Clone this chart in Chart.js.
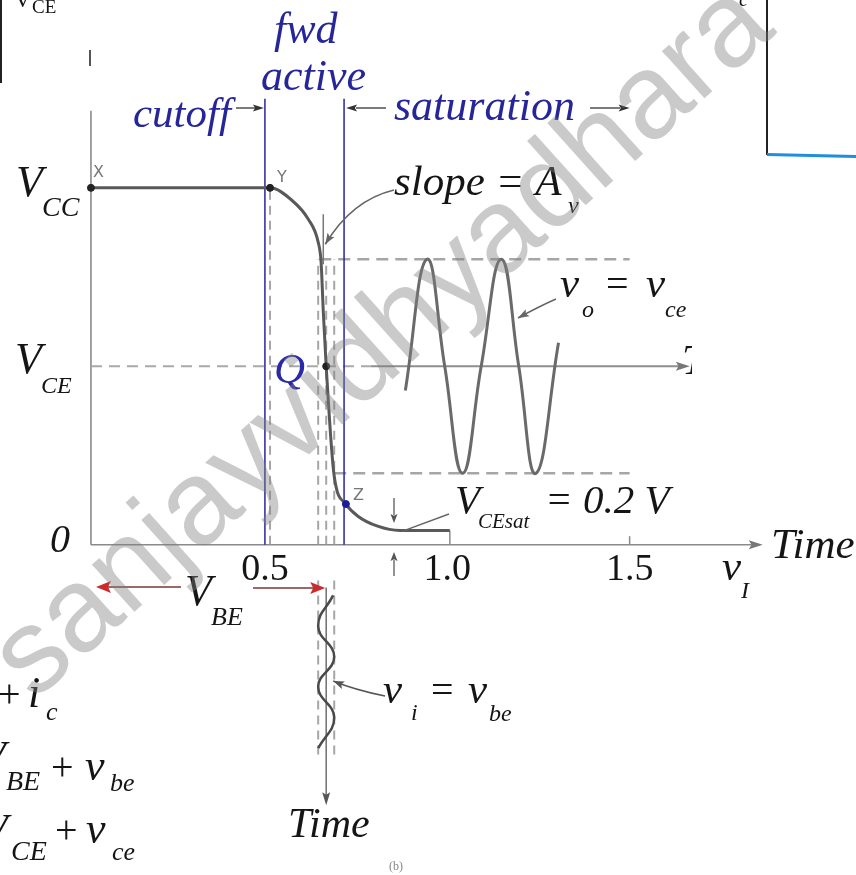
<!DOCTYPE html>
<html>
<head>
<meta charset="utf-8">
<script src="https://cdn.jsdelivr.net/npm/chart.js@4.4.1/dist/chart.umd.min.js"></script>
<style>
  html, body { margin: 0; padding: 0; background: #fff; }
  canvas { display: block; }
</style>
</head>
<body>
<canvas id="myChart" width="856" height="875"></canvas>
<script>
// BJT voltage transfer characteristic vO(vI) with small-signal in/out waves

// transfer curve: input vI (V), output vO (V)
const vIn  = [0.023, 0.514, 0.573, 0.619, 0.646, 0.654, 0.660, 0.668, 0.690, 0.722, 0.755, 0.809, 0.871, 1.007];
const vOut = [5.0,   5.0,   4.83,  4.56,  4.24,  3.96,  3.27,  2.5,   0.96,  0.57,  0.40,  0.26,  0.2,   0.2];

// output wave vo = vce, time running along the vI axis
const outT = [0.885, 0.944, 0.993, 1.042, 1.093, 1.148, 1.196, 1.243, 1.305];
const outV = [2.16,  4.0,   2.5,   1.0,   2.5,   4.0,   2.5,   1.0,   2.83];

// input wave vi = vbe, time running downwards below the axis
const inV = [0.687, 0.646, 0.690, 0.646, 0.690, 0.646];
const inT = [-0.71, -1.14, -1.57, -1.99, -2.42, -2.85];

// operating levels
const vCC = 5.0, vCE = 2.5, vCEsat = 0.2;
const swingHi = 4.0, swingLo = 1.0;
const vIq = 0.668, vIlo = 0.646, vIhi = 0.690;
const regionEdges = [0.5, 0.717];        // cutoff | fwd active | saturation
const xTicks = [0.5, 1.0, 1.5];
const xTickText = ['0.5', '1.0', '1.5'];

// visible window of the drawing
const xMin = -0.2127, xMax = 2.107;
const yMin = -4.557, yMax = 7.562;

function pts(xs, ys) { return xs.map((x, i) => ({ x: x, y: ys[i] })); }
function seg(x1, y1, x2, y2) { return [{ x: x1, y: y1 }, { x: x2, y: y2 }]; }
function ref(data, color, width, dash) {
  return { data: data, borderColor: color, borderWidth: width, borderDash: dash || [], pointRadius: 0, tension: 0 };
}

const dashGray = 'rgba(150,150,150,0.85)';
const navy = '#26269a';
const curve = pts(vIn, vOut);

const datasets = [
  // marked points X, Y, Q
  { data: [curve[0], curve[1], curve[7]], showLine: false,
    pointRadius: 3.5, pointBackgroundColor: '#222', pointBorderColor: '#222' },
  // point Z
  { data: [curve[9]], showLine: false, pointRadius: 3.5, pointBackgroundColor: '#1d1d9a', pointBorderColor: '#1d1d9a' },
  { data: curve, borderColor: '#595959', borderWidth: 3, cubicInterpolationMode: 'monotone', pointRadius: 0 },
  { data: pts(outT, outV), borderColor: '#6a6a6a', borderWidth: 3, tension: 0.45, pointRadius: 0 },
  { data: pts(inV, inT), borderColor: '#4a4a4a', borderWidth: 2.5, tension: 0.45, pointRadius: 0 },
  // region boundaries
  ref(seg(regionEdges[0], 0, regionEdges[0], 6.25), navy, 1.5),
  ref(seg(regionEdges[1], 0, regionEdges[1], 6.25), navy, 1.5),
  // projections
  ref(seg(0.514, 0, 0.514, vCC), dashGray, 2, [9, 6]),
  ref(seg(vIlo, 0, vIlo, swingHi), dashGray, 2, [9, 6]),
  ref(seg(vIq, 0, vIq, swingHi), dashGray, 2, [9, 6]),
  ref(seg(vIhi, 0, vIhi, swingHi), dashGray, 2, [9, 6]),
  ref(seg(0.660, 4.63, 0.660, 3.93), '#777', 1.5),
  ref(seg(0.649, swingHi, 1.5, swingHi), dashGray, 2.5, [12, 7]),
  ref(seg(vIhi, swingLo, 1.5, swingLo), dashGray, 2.5, [12, 7]),
  ref(seg(0.023, vCE, 0.79, vCE), 'rgba(160,160,160,0.9)', 2, [11, 7]),
  ref(seg(0.79, vCE, 1.645, vCE), '#8e8e8e', 2),
  ref(seg(1.007, vCEsat, 1.007, 0), '#8a8a8a', 1.5),
  ref(seg(1.5, 0, 1.5, 0.12), '#8a8a8a', 1.5),
  // input swing limits and time axis below
  ref(seg(vIlo, -0.50, vIlo, -2.96), dashGray, 2, [9, 6]),
  ref(seg(vIhi, -0.50, vIhi, -2.96), dashGray, 2, [9, 6]),
  ref(seg(vIq, -0.60, vIq, -3.55), '#6f6f6f', 1.5)
];

function line(c, x1, y1, x2, y2) { c.beginPath(); c.moveTo(x1, y1); c.lineTo(x2, y2); c.stroke(); }
function head(c, x, y, ang, color, len, half) {
  c.save();
  c.translate(x, y); c.rotate(ang);
  c.fillStyle = color;
  c.beginPath(); c.moveTo(0, 0); c.lineTo(-len, -half); c.lineTo(-len * 0.8, 0); c.lineTo(-len, half); c.closePath(); c.fill();
  c.restore();
}
// curved leader: start, control, tip
function leader(c, x1, y1, cx, cy, x2, y2, color) {
  c.save();
  c.strokeStyle = color; c.lineWidth = 1.6;
  c.beginPath(); c.moveTo(x1, y1); c.quadraticCurveTo(cx, cy, x2, y2); c.stroke();
  head(c, x2, y2, Math.atan2(y2 - cy, x2 - cx), color, 11, 4);
  c.restore();
}
function txt(c, s, x, y, size, o) {
  o = o || {};
  c.save();
  c.font = (o.up ? '' : 'italic ') + size + 'px "Liberation Serif", "DejaVu Serif", serif';
  c.fillStyle = o.color || '#151515';
  c.textAlign = o.align || 'left';
  c.textBaseline = 'alphabetic';
  c.fillText(s, x, y);
  c.restore();
}

const diagram = {
  id: 'diagram',
  beforeDatasetsDraw(chart) {
    const c = chart.ctx, X = chart.scales.x, Y = chart.scales.y;
    const px = v => X.getPixelForValue(v), py = v => Y.getPixelForValue(v);
    c.save();
    c.strokeStyle = '#8a8a8a'; c.lineWidth = 1.6;
    // vI axis with arrow, vO axis
    line(c, px(0.023), py(0), px(1.84), py(0));
    head(c, px(1.865), py(0), 0, '#777', 14, 4.5);
    line(c, px(0.023), py(0), px(0.023), py(6.08));
    // frames of neighbouring figures
    c.strokeStyle = '#222'; c.lineWidth = 2;
    line(c, 1, 0, 1, 83);
    line(c, 767, 0, 767, 155);
    c.strokeStyle = '#555'; c.lineWidth = 2;
    line(c, 90, 50, 90, 66);
    c.strokeStyle = '#1d8ee0'; c.lineWidth = 3;
    line(c, 767, 154.5, 856, 156.5);
    c.restore();
  },
  afterDatasetsDraw(chart) {
    const c = chart.ctx, X = chart.scales.x, Y = chart.scales.y;
    const px = v => X.getPixelForValue(v), py = v => Y.getPixelForValue(v);
    c.save();

    // arrow heads on the time axes
    head(c, px(1.665), py(vCE), 0, '#777', 14, 4.5);
    head(c, px(vIq), py(-3.65), Math.PI / 2, '#555', 13, 4);

    // region labels
    txt(c, 'fwd', 274, 43, 44, { color: navy });
    txt(c, 'active', 261, 90, 44, { color: navy });
    txt(c, 'cutoff', 133, 127, 43, { color: navy });
    txt(c, 'saturation', 394, 120, 44, { color: navy });
    c.strokeStyle = '#333'; c.lineWidth = 1.3;
    line(c, 236, 108, 255, 108); head(c, px(regionEdges[0]) - 1, 108, 0, '#333', 11, 3.5);
    line(c, 356, 108, 386, 108); head(c, px(regionEdges[1]) + 2, 108, Math.PI, '#333', 11, 3.5);
    line(c, 590, 108, 620, 108); head(c, px(1.5), 108, 0, '#333', 11, 3.5);

    // y-axis levels
    txt(c, 'V', 16, py(vCC) + 8, 44);
    txt(c, 'CC', 42, py(vCC) + 28, 28);
    txt(c, 'V', 15, py(vCE) + 7, 44);
    txt(c, 'CE', 41, py(vCE) + 27, 24);
    txt(c, '0', 50, py(0) + 7, 40);

    // x-axis ticks
    xTicks.forEach((t, i) => txt(c, xTickText[i], px(t), py(0) + 35, 38, { up: true, align: 'center' }));
    txt(c, 'Time', 771, py(0) + 13, 43);
    txt(c, 'v', 722, 580, 43);
    txt(c, 'I', 741, 598, 24);

    // point names
    c.font = '16px "DejaVu Sans", sans-serif'; c.fillStyle = '#777';
    c.fillText('X', 93, 177); c.fillText('Y', 277, 182); c.fillText('Z', 353, 500);
    txt(c, 'Q', 274, 383, 43, { color: '#2a2aa8' });

    // slope annotation
    txt(c, 'slope = A', 394, 195, 43);
    txt(c, 'v', 568, 213, 24);
    leader(c, 394, 190, 352, 200, px(0.660) + 2, py(swingHi) - 15, '#666');

    // output wave label
    txt(c, 'v', 560, 297, 43);
    txt(c, 'o', 582, 317, 24);
    txt(c, '=', 606, 297, 40, { up: true });
    txt(c, 'v', 646, 297, 43);
    txt(c, 'ce', 665, 317, 24);
    leader(c, 556, 299, 540, 306, 518, 318, '#666');

    // time axis at the Q level (cut at the frame edge)
    c.save();
    c.beginPath(); c.rect(0, 0, 692, 875); c.clip();
    txt(c, 'T', 682, py(vCE) + 8, 42);
    c.restore();

    // saturation voltage
    txt(c, 'V', 455, 513, 41);
    txt(c, 'CEsat', 478, 528, 21);
    txt(c, '= 0.2 V', 545, 513, 41);
    c.strokeStyle = '#666'; c.lineWidth = 1.4;
    line(c, 449, 514, 402, py(vCEsat) + 1);
    line(c, 394, 498, 394, 515); head(c, 394, 523, Math.PI / 2, '#555', 9, 3.5);
    line(c, 394, 576, 394, 560); head(c, 394, 552, -Math.PI / 2, '#555', 9, 3.5);

    // VBE bias arrows
    c.strokeStyle = '#7a3434'; c.lineWidth = 1.6;
    line(c, 181, 587, 108, 587); head(c, 96, 587, Math.PI, '#cc2b2b', 15, 6);
    line(c, 253, 588, px(vIq) - 12, 588); head(c, px(vIq) - 1, 588, 0, '#cc2b2b', 15, 6);
    txt(c, 'V', 185, 605, 44);
    txt(c, 'BE', 211, 625, 26);

    // input wave label
    txt(c, 'v', 383, 703, 43);
    txt(c, 'i', 411, 720, 24);
    txt(c, '=', 431, 703, 40, { up: true });
    txt(c, 'v', 468, 703, 43);
    txt(c, 'be', 489, 721, 24);
    leader(c, 385, 696, 355, 690, px(vIhi) - 1, 681, '#555');
    txt(c, 'Time', 288, 837, 42);
    c.font = '12px "Liberation Serif", serif'; c.fillStyle = '#888';
    c.fillText('(b)', 389, 870);

    // equations cut at the left edge
    txt(c, '+', -2, 707, 40, { up: true });
    txt(c, 'i', 28, 707, 44);
    txt(c, 'c', 46, 720, 26);
    txt(c, 'V', -20, 770, 42);
    txt(c, 'BE', 6, 790, 28);
    txt(c, '+', 51, 780, 40, { up: true });
    txt(c, 'v', 85, 780, 44);
    txt(c, 'be', 110, 791, 26);
    txt(c, 'V', -18, 843, 42);
    txt(c, 'CE', 11, 860, 28);
    txt(c, '+', 55, 843, 40, { up: true });
    txt(c, 'v', 86, 843, 44);
    txt(c, 'ce', 112, 860, 26);

    // labels of neighbouring figures
    txt(c, 'V', 14, 7, 24, { up: true });
    txt(c, 'CE', 32, 13, 19, { up: true });
    txt(c, 'c', 739, 6, 20);
    c.restore();
  },
  afterDraw(chart) {
    const c = chart.ctx;
    c.save();
    c.translate(34, 702);
    c.rotate(-42 * Math.PI / 180);
    c.font = '120px "Liberation Sans", Arial, sans-serif';
    c.fillStyle = 'rgba(128,128,128,0.42)';
    c.fillText('sanjayvidhyadhara', 0, 0);
    c.restore();
  }
};

new Chart(document.getElementById('myChart'), {
  type: 'line',
  data: { datasets: datasets },
  options: {
    responsive: false,
    animation: false,
    devicePixelRatio: 1,
    layout: { padding: 0 },
    scales: {
      x: { type: 'linear', min: xMin, max: xMax, display: false },
      y: { type: 'linear', min: yMin, max: yMax, display: false }
    },
    plugins: { legend: { display: false }, tooltip: { enabled: false } },
    elements: { point: { radius: 0 } }
  },
  plugins: [diagram]
});
</script>
</body>
</html>
